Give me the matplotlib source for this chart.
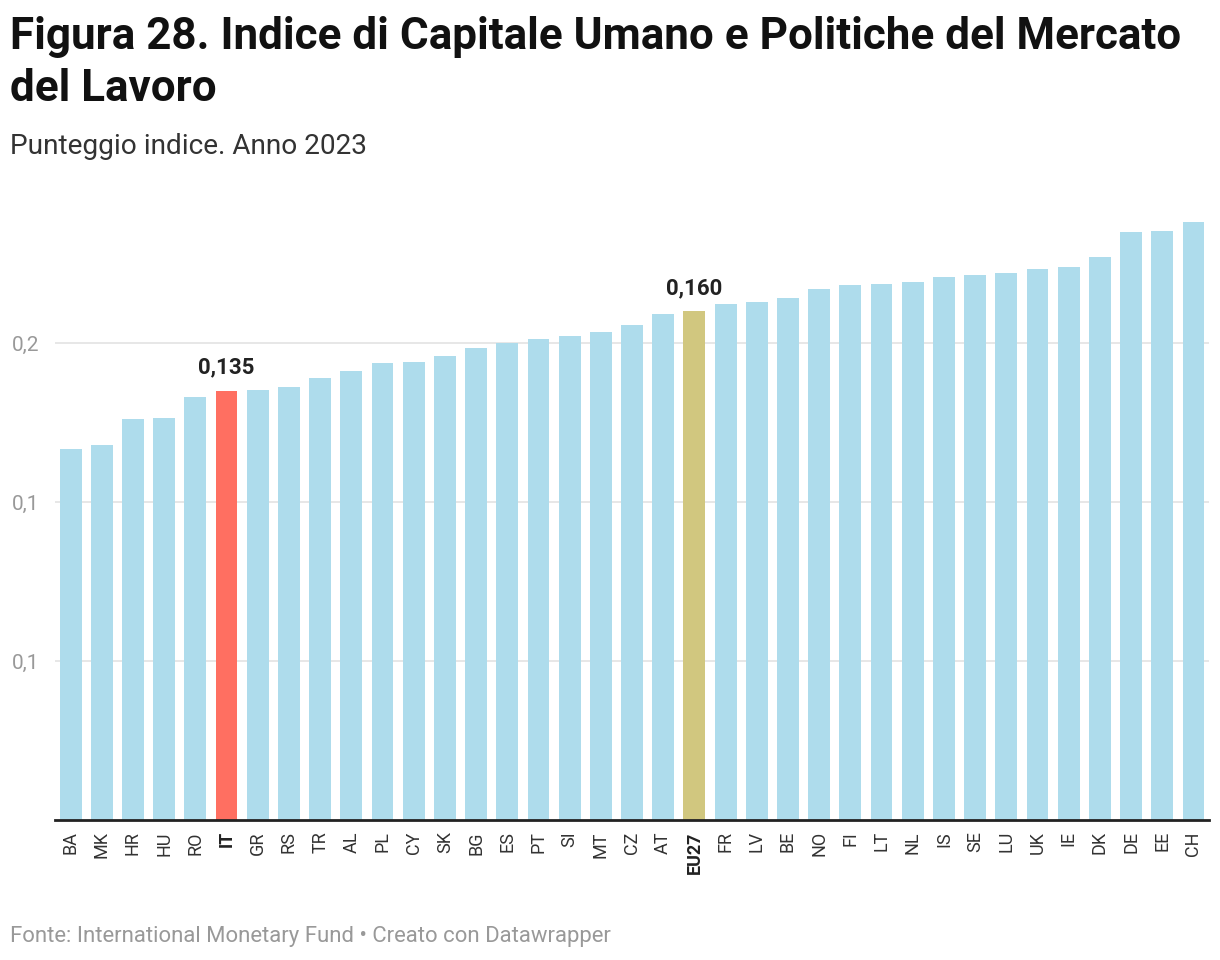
import numpy as np
import matplotlib.pyplot as plt
from matplotlib.ticker import FuncFormatter

# Country codes and index scores (2023)
countries = ['BA', 'MK', 'HR', 'HU', 'RO', 'IT', 'GR', 'RS', 'TR', 'AL', 'PL', 'CY',
             'SK', 'BG', 'ES', 'PT', 'SI', 'MT', 'CZ', 'AT', 'EU27', 'FR', 'LV', 'BE',
             'NO', 'FI', 'LT', 'NL', 'IS', 'SE', 'LU', 'UK', 'IE', 'DK', 'DE', 'EE', 'CH']
scores = [0.1167, 0.1179, 0.1261, 0.1264, 0.1330, 0.135, 0.1352, 0.1362, 0.1390, 0.1412,
          0.1437, 0.1440, 0.1459, 0.1484, 0.1500, 0.1513, 0.1522, 0.1535, 0.1557, 0.1591,
          0.160, 0.1623, 0.1629, 0.1642, 0.1670, 0.1682, 0.1686, 0.1692, 0.1708, 0.1714,
          0.1720, 0.1733, 0.1739, 0.1770, 0.1849, 0.1852, 0.1881]
highlight = {'IT': '#ff6f61', 'EU27': '#d1c77f'}
labelled = {'IT': '0,135', 'EU27': '0,160'}
y_ticks = [0.05, 0.10, 0.15]

plt.rcParams['font.family'] = ['Roboto', 'DejaVu Sans']

fig = plt.figure(figsize=(12.2, 9.6), dpi=100)
ax = fig.add_axes([0.0451, 0.1458, 0.9459, 0.6292])

x = np.arange(len(countries))
colors = [highlight.get(c, '#aedcec') for c in countries]
ax.bar(x, scores, width=0.7, color=colors, zorder=2)

for i, c in enumerate(countries):
    if c in labelled:
        ax.annotate(labelled[c], (x[i], scores[i]), xytext=(0, 9), textcoords='offset points',
                    ha='center', va='bottom', fontsize=16, fontweight='bold', color='#222222')

ax.set_xlim(-0.5, len(countries) - 0.5)
ax.set_ylim(0, 0.19)
ax.set_yticks(y_ticks)
# one decimal, rounded half up like the original (0,05 -> 0,1 and 0,15 -> 0,2)
ax.yaxis.set_major_formatter(FuncFormatter(lambda v, p: f'{v + 1e-9:.1f}'.replace('.', ',')))
ax.grid(axis='y', color='#e3e3e3', linewidth=1.2, zorder=0)
ax.tick_params(axis='y', length=0, labelsize=15, labelcolor='#999999', pad=0)
for lab in ax.get_yticklabels():
    lab.set_horizontalalignment('left')
    lab.set_x(-0.037)

ax.set_xticks(x)
ax.set_xticklabels(countries, rotation=90, fontsize=13, color='#333333')
ax.tick_params(axis='x', length=0, pad=8)
for lab in ax.get_xticklabels():
    if lab.get_text() in highlight:
        lab.set_fontweight('bold')
        lab.set_color('#222222')

for s in ['top', 'right', 'left']:
    ax.spines[s].set_visible(False)
ax.spines['bottom'].set_color('#222222')
ax.spines['bottom'].set_linewidth(2)
ax.spines['bottom'].set_zorder(3)

fig.text(0.008, 0.983, 'Figura 28. Indice di Capitale Umano e Politiche del Mercato\ndel Lavoro',
         fontsize=31.7, fontweight='bold', color='#111111', va='top', ha='left', linespacing=1.3)
fig.text(0.008, 0.847, 'Punteggio indice. Anno 2023', fontsize=20.2, color='#333333',
         va='center', ha='left')
fig.text(0.008, 0.024, 'Fonte: International Monetary Fund \u2022 Creato con Datawrapper',
         fontsize=15.9, color='#999999', va='center', ha='left')

fig.savefig('out.png', dpi=100)
